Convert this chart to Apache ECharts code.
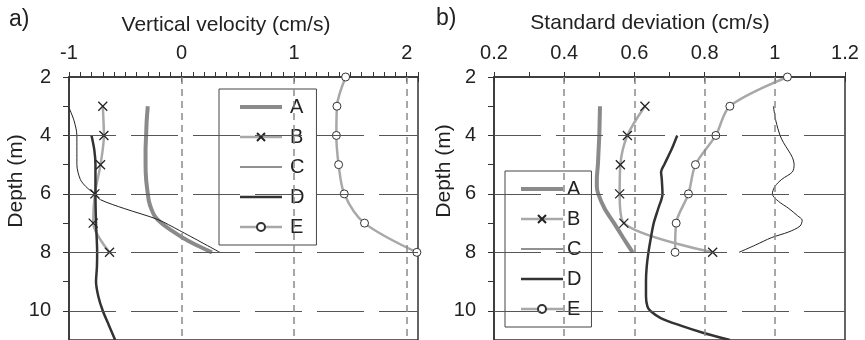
<!DOCTYPE html>
<html><head><meta charset="utf-8">
<script src="https://cdn.jsdelivr.net/npm/echarts@6/dist/echarts.min.js"></script>
<style>html,body{margin:0;padding:0;background:#fff}#c{width:865px;height:340px}</style>
</head><body><div id="c"></div><script>
// ---------- data ----------
const seriesNames = ['A', 'B', 'C', 'D', 'E'];
const markerDepths = [3, 4, 5, 6, 7, 8];
const eDepths = [2, 3, 4, 5, 6, 7, 8];

// Panel a) vertical velocity (cm/s)
const aA_depth = [3, 3.5, 4, 4.5, 5, 5.5, 6, 6.25, 6.5, 6.75, 7, 7.25, 7.5, 7.75, 8];
const aA_val   = [-0.30, -0.31, -0.315, -0.32, -0.32, -0.315, -0.30, -0.29, -0.27, -0.24, -0.18, -0.09, 0.01, 0.13, 0.27];
const aB_val   = [-0.70, -0.69, -0.72, -0.77, -0.785, -0.64];
const aC_depth = [3.05, 3.5, 4, 4.5, 5, 5.5, 5.75, 6, 6.2, 6.5, 6.88, 7.25, 8];
const aC_val   = [-1.0, -0.955, -0.93, -0.93, -0.93, -0.90, -0.85, -0.775, -0.72, -0.51, -0.21, -0.02, 0.34];
const aD_depth = [4, 4.5, 5, 6, 7, 8, 8.5, 9, 9.5, 10, 10.5, 11];
const aD_val   = [-0.80, -0.775, -0.765, -0.765, -0.76, -0.75, -0.752, -0.76, -0.74, -0.70, -0.645, -0.59];
const aE_val   = [1.457, 1.38, 1.375, 1.395, 1.445, 1.625, 2.09];

// Panel b) standard deviation (cm/s)
const bA_depth = [3, 3.5, 4, 4.5, 5, 5.5, 5.75, 6, 6.5, 7, 7.5, 8];
const bA_val   = [0.502, 0.501, 0.500, 0.498, 0.496, 0.493, 0.493, 0.497, 0.515, 0.542, 0.568, 0.595];
const bB_val   = [0.630, 0.580, 0.560, 0.558, 0.570, 0.823];
const bC_depth = [3.0, 3.5, 4.0, 4.25, 4.5, 4.75, 5.0, 5.25, 5.5, 5.75, 6.0, 6.25, 6.5, 6.75, 6.9, 7.1, 7.3, 7.5, 7.75, 8.0];
const bC_val   = [0.996, 1.003, 1.015, 1.025, 1.038, 1.050, 1.055, 1.050, 1.020, 1.000, 0.993, 1.010, 1.040, 1.065, 1.078, 1.072, 1.040, 0.990, 0.945, 0.898];
const bD_depth = [4.0, 4.5, 5.0, 5.25, 5.5, 6.0, 6.5, 7.0, 7.5, 8.0, 8.5, 9.0, 9.5, 9.85, 10.0, 10.25, 10.5, 10.75, 11.0];
const bD_val   = [0.722, 0.705, 0.685, 0.676, 0.678, 0.680, 0.668, 0.655, 0.647, 0.640, 0.635, 0.633, 0.633, 0.637, 0.645, 0.675, 0.730, 0.795, 0.872];
const bE_val   = [1.036, 0.872, 0.832, 0.774, 0.754, 0.719, 0.716];

// axes / gridlines
const depthGrid = [4, 6, 8, 10];
const aVertGrid = [0, 1, 2];
const bVertGrid = [0.4, 0.6, 0.8, 1.0];

// ---------- chart ----------
const FONT = 'Liberation Sans, Arial, sans-serif';
const TXT = '#222';
const pair = (vals, depths) => vals.map((v, i) => [v, depths[i]]);

const styles = {
  A: { lineStyle: { color: '#8a8a8a', width: 4 }, itemStyle: { color: '#8a8a8a' }, symbol: 'none' },
  B: { lineStyle: { color: '#a8a8a8', width: 2.5 }, symbol: 'path://M0,0L10,10M10,0L0,10', symbolSize: 9,
       itemStyle: { color: '#222', borderColor: '#222', borderWidth: 1.3 } },
  C: { lineStyle: { color: '#222', width: 1 }, itemStyle: { color: '#222' }, symbol: 'none' },
  D: { lineStyle: { color: '#333', width: 2.5 }, itemStyle: { color: '#333' }, symbol: 'none' },
  E: { lineStyle: { color: '#a8a8a8', width: 2.5 }, symbol: 'circle', symbolSize: 8,
       itemStyle: { color: '#fff', borderColor: '#333', borderWidth: 1 } }
};

function mk(name, data, xi, yi, smooth) {
  const s = styles[name];
  return Object.assign({
    type: 'line', name, data, xAxisIndex: xi, yAxisIndex: yi, smooth: smooth,
    showSymbol: s.symbol !== 'none', showAllSymbol: true, animation: false, z: 3,
    emphasis: { disabled: true }
  }, JSON.parse(JSON.stringify(s)));
}

function gridSeries(xi, yi, vert) {
  return {
    type: 'line', data: [], xAxisIndex: xi, yAxisIndex: yi, z: 1, silent: true, animation: false,
    markLine: {
      silent: true, symbol: ['none', 'none'], label: { show: false }, animation: false,
      data: depthGrid.map(d => ({ yAxis: d, lineStyle: { color: '#555', width: 1, type: [47, 15] } }))
        .concat(vert.map(v => ({ xAxis: v, lineStyle: { color: '#8a8a8a', width: 1.5, type: [7, 5] } })))
    }
  };
}

function xMain(gi, min, max, fmt) {
  return {
    gridIndex: gi, type: 'value', position: 'top', min, max, interval: 0.1,
    axisLine: { show: true, onZero: false, lineStyle: { color: '#333', width: 1.5 } },
    axisTick: { show: true, length: 5, lineStyle: { color: '#333' } },
    axisLabel: { formatter: fmt, fontSize: 20, fontFamily: FONT, color: TXT, margin: 14 },
    splitLine: { show: false }
  };
}
function xCross(gi, min, max, iv) {
  return {
    gridIndex: gi, type: 'value', position: 'top', min, max, interval: iv,
    axisLine: { show: false, onZero: false },
    axisTick: { show: true, inside: true, length: 5, lineStyle: { color: '#333' } },
    axisLabel: { show: false }, splitLine: { show: false }
  };
}
function yAx(gi) {
  return {
    gridIndex: gi, type: 'value', inverse: true, min: 2, max: 11, interval: 1,
    axisLine: { show: true, onZero: false, lineStyle: { color: '#333', width: 1.5 } },
    axisTick: { show: true, length: 6, lineStyle: { color: '#333' } },
    axisLabel: { formatter: v => (v % 2 === 0 && v <= 10) ? String(v) : '', fontSize: 20, fontFamily: FONT, color: TXT, margin: 18 },
    splitLine: { show: false }
  };
}

const fmtA = v => Math.abs(v - Math.round(v)) < 1e-6 && v < 2.05 ? String(Math.round(v)) : '';
const fmtB = v => { const r = Math.round(v * 10); return (Math.abs(v * 10 - r) < 1e-6 && r % 2 === 0) ? String(r / 10) : ''; };

const legendData = seriesNames.map(n => (styles[n].symbol === 'none'
  ? { name: n, itemStyle: { opacity: 0 } } : { name: n }));

function legend(left, top, pad, textPadLeft) {
  return {
    orient: 'vertical', left, top, data: legendData, itemWidth: 42, itemHeight: 10, itemGap: 10,
    backgroundColor: '#fff', borderColor: '#444', borderWidth: 1, borderRadius: 0, padding: pad,
    selectedMode: false,
    lineStyle: { width: 'inherit', color: 'inherit' },
    textStyle: { fontSize: 20, fontFamily: FONT, color: TXT, lineHeight: 20, padding: [0, 0, 0, textPadLeft] }
  };
}

const chart = echarts.init(document.getElementById('c'), null, { renderer: 'canvas' });
chart.setOption({
  animation: false,
  backgroundColor: '#fff',
  grid: [
    { left: 69, top: 77, right: 447, bottom: 0, show: true, borderColor: '#333', borderWidth: 1.5, backgroundColor: 'transparent' },
    { left: 494, top: 77, right: 20, bottom: 0, show: true, borderColor: '#333', borderWidth: 1.5, backgroundColor: 'transparent' }
  ],
  xAxis: [xMain(0, -1, 2.1, fmtA), xCross(0, -1, 2.1, 1), xMain(1, 0.2, 1.2, fmtB), xCross(1, 0.2, 1.2, 0.2)],
  yAxis: [yAx(0), yAx(1)],
  legend: [legend(219, 89, [8, 12, 8, 19], 3), legend(505, 171, [8, 10, 8, 14], -1)],
  graphic: [
    { type: 'text', left: 9, top: 8, style: { text: 'a)', font: '23px ' + FONT, fill: TXT } },
    { type: 'text', x: 226, y: 25, style: { text: 'Vertical velocity (cm/s)', font: '21px ' + FONT, fill: TXT, align: 'center', verticalAlign: 'middle' } },
    { type: 'text', x: 16, y: 181, rotation: Math.PI / 2, style: { text: 'Depth (m)', font: '21px ' + FONT, fill: TXT, align: 'center', verticalAlign: 'middle' } },
    { type: 'text', left: 436, top: 7, style: { text: 'b)', font: '23px ' + FONT, fill: TXT } },
    { type: 'text', x: 650, y: 23, style: { text: 'Standard deviation (cm/s)', font: '21px ' + FONT, fill: TXT, align: 'center', verticalAlign: 'middle' } },
    { type: 'text', x: 444, y: 171, rotation: Math.PI / 2, style: { text: 'Depth (m)', font: '21px ' + FONT, fill: TXT, align: 'center', verticalAlign: 'middle' } }
  ],
  series: [
    gridSeries(0, 0, aVertGrid),
    mk('A', pair(aA_val, aA_depth), 0, 0, 0.3),
    mk('B', pair(aB_val, markerDepths), 0, 0, 0.3),
    mk('C', pair(aC_val, aC_depth), 0, 0, 0.3),
    mk('D', pair(aD_val, aD_depth), 0, 0, 0.3),
    mk('E', pair(aE_val, eDepths), 0, 0, 0.3),
    gridSeries(2, 1, bVertGrid),
    mk('A', pair(bA_val, bA_depth), 2, 1, 0.3),
    mk('B', pair(bB_val, markerDepths), 2, 1, 0.3),
    mk('C', pair(bC_val, bC_depth), 2, 1, 0.3),
    mk('D', pair(bD_val, bD_depth), 2, 1, 0.3),
    mk('E', pair(bE_val, eDepths), 2, 1, 0.3)
  ]
});
</script></body></html>
